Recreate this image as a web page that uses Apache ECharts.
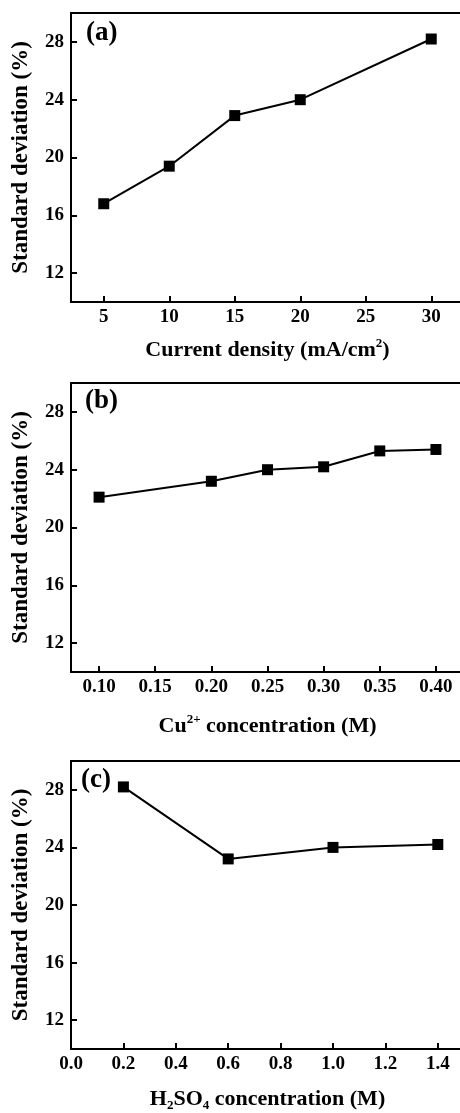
<!DOCTYPE html>
<html>
<head>
<meta charset="utf-8">
<script src="https://cdn.jsdelivr.net/npm/echarts@6/dist/echarts.min.js"></script>
<style>html,body{margin:0;background:#fff}#chart{width:460px;height:1113px}</style>
</head>
<body>
<div id="chart"></div>
<script>
// (a) current density
const currentDensity = [5, 10, 15, 20, 30];
const stdDevA = [16.8, 19.4, 22.9, 24.0, 28.2];
const ticksA = [5, 10, 15, 20, 25, 30];
// (b) Cu2+ concentration
const cuConc = [0.10, 0.20, 0.25, 0.30, 0.35, 0.40];
const stdDevB = [22.1, 23.2, 24.0, 24.2, 25.3, 25.4];
const ticksB = [0.10, 0.15, 0.20, 0.25, 0.30, 0.35, 0.40];
// (c) H2SO4 concentration
const h2so4Conc = [0.2, 0.6, 1.0, 1.4];
const stdDevC = [28.2, 23.2, 24.0, 24.2];
const ticksC = [0, 0.2, 0.4, 0.6, 0.8, 1.0, 1.2, 1.4];
// shared y ticks
const yTicks = [12, 16, 20, 24, 28];

const FONT = "'Liberation Serif', 'Times New Roman', serif";
const black = '#000';

const rich = {
  t: { fontFamily: FONT, fontWeight: 'bold', fontSize: 22, color: black, lineHeight: 26 },
  sup: { fontFamily: FONT, fontWeight: 'bold', fontSize: 13, color: black, verticalAlign: 'top', lineHeight: 12 },
  sub: { fontFamily: FONT, fontWeight: 'bold', fontSize: 13, color: black, verticalAlign: 'bottom', lineHeight: 12 }
};

const zip = (xs, ys) => xs.map((x, i) => [x, ys[i]]);

const xAxis = (idx, min, max, ticks, digits, name, gap) => ({
  type: 'value', gridIndex: idx, min: min, max: max,
  axisLine: { lineStyle: { color: black, width: 2 } },
  axisTick: { inside: true, length: 6, lineStyle: { color: black, width: 2 }, customValues: ticks },
  axisLabel: {
    customValues: ticks, margin: 6, color: black, fontFamily: FONT, fontWeight: 'bold', fontSize: 19,
    formatter: v => v.toFixed(digits)
  },
  splitLine: { show: false },
  name: name, nameLocation: 'middle', nameGap: gap,
  nameTextStyle: { rich: rich }
});

const yAxis = (idx) => ({
  type: 'value', gridIndex: idx, min: 10, max: 30,
  axisLine: { show: true, lineStyle: { color: black, width: 2 } },
  axisTick: { show: true, inside: true, length: 6, lineStyle: { color: black, width: 2 }, customValues: yTicks },
  axisLabel: { customValues: yTicks, margin: 7, color: black, fontFamily: FONT, fontWeight: 'bold', fontSize: 19 },
  splitLine: { show: false },
  name: 'Standard deviation (%)', nameLocation: 'middle', nameGap: 38,
  nameTextStyle: { fontFamily: FONT, fontWeight: 'bold', fontSize: 23, color: black }
});

const series = (idx, data) => ({
  type: 'line', xAxisIndex: idx, yAxisIndex: idx, data: data,
  symbol: 'rect', symbolSize: 11,
  lineStyle: { color: black, width: 2 },
  itemStyle: { color: black }
});

const panelLabel = (txt, left, top) => ({
  type: 'text', left: left, top: top,
  style: { text: txt, fontFamily: FONT, fontWeight: 'bold', fontSize: 27, fill: black }
});

const grid = (top, height) => ({
  left: 71, top: top, width: 393, height: height,
  outerBoundsMode: 'none', containLabel: false,
  show: true, borderColor: black, borderWidth: 2
});

const myChart = echarts.init(document.getElementById('chart'), null, { renderer: 'canvas' });
myChart.setOption({
  animation: false,
  backgroundColor: '#fff',
  grid: [grid(13, 289), grid(383, 289), grid(761, 288)],
  xAxis: [
    xAxis(0, 2.5, 32.5, ticksA, 0, '{t|Current density (mA/cm}{sup|2}{t|)}', 35),
    xAxis(1, 0.075, 0.425, ticksB, 2, '{t|Cu}{sup|2+}{t| concentration (M)}', 41),
    xAxis(2, 0, 1.5, ticksC, 1, '{t|H}{sub|2}{t|SO}{sub|4}{t| concentration (M)}', 37)
  ],
  yAxis: [yAxis(0), yAxis(1), yAxis(2)],
  series: [
    series(0, zip(currentDensity, stdDevA)),
    series(1, zip(cuConc, stdDevB)),
    series(2, zip(h2so4Conc, stdDevC))
  ],
  graphic: [
    panelLabel('(a)', 86, 20),
    panelLabel('(b)', 85, 388),
    panelLabel('(c)', 81, 767)
  ]
});
</script>
</body>
</html>
